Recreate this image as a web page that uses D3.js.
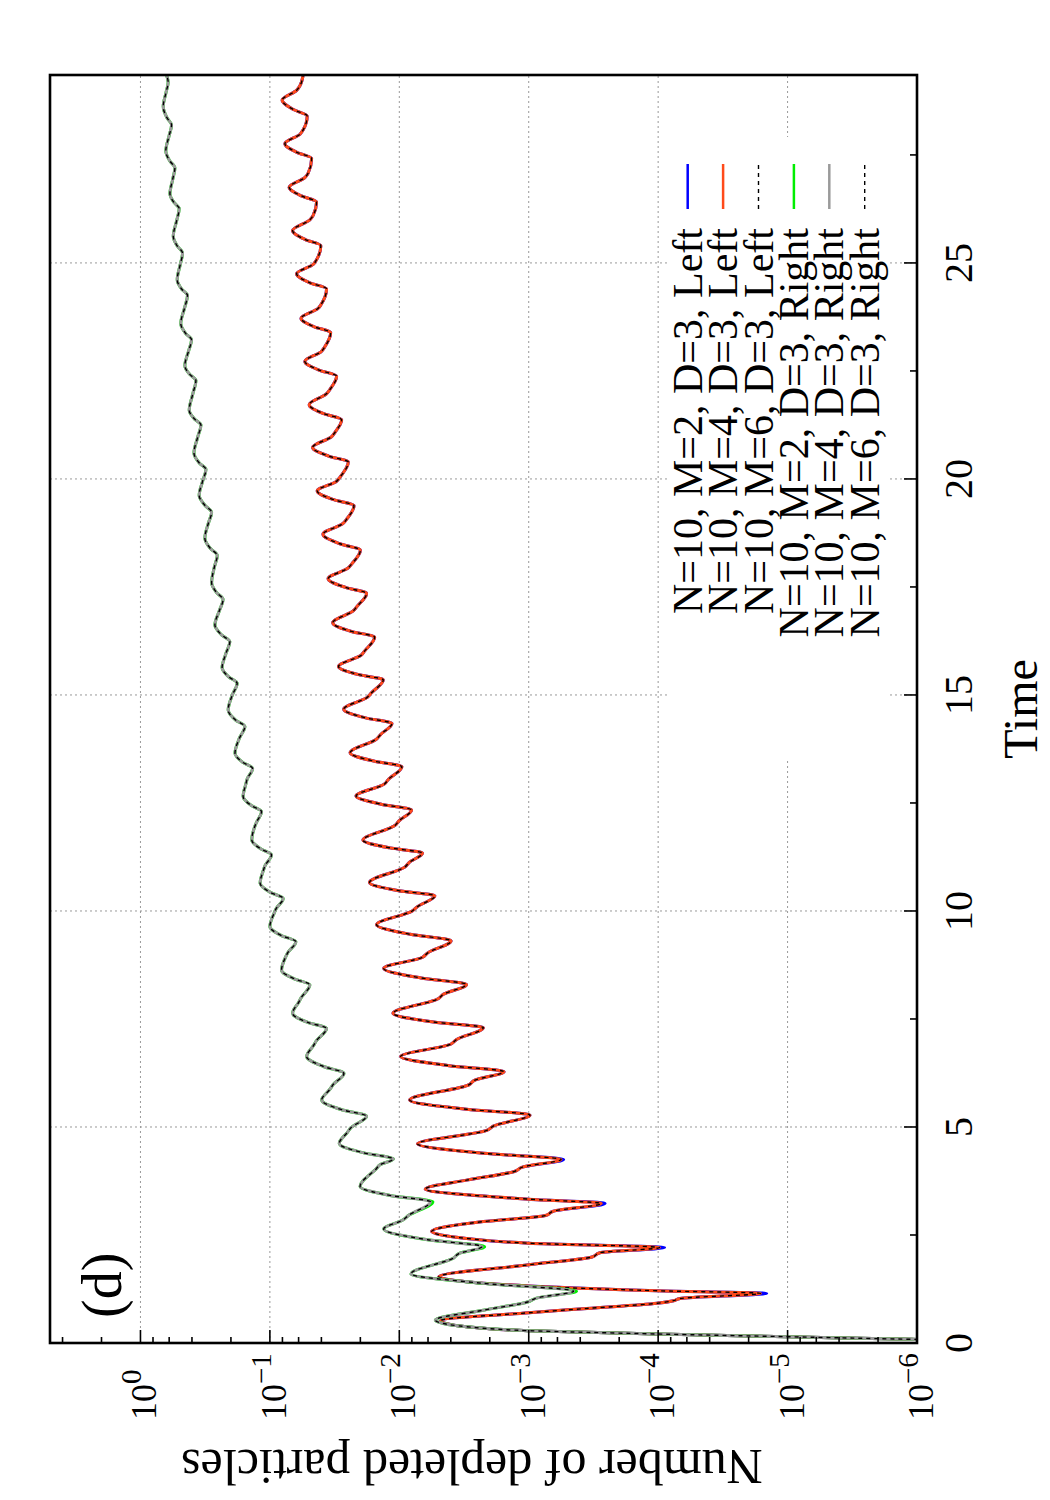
<!DOCTYPE html>
<html><head><meta charset="utf-8">
<script src="https://cdn.jsdelivr.net/npm/d3@7"></script>
<style>body{margin:0;background:#fff}</style>
</head><body>
<svg id="chart" width="1050" height="1500" xmlns="http://www.w3.org/2000/svg"></svg>
<script>
// ---------------- data ----------------
const timeTicks = [0, 5, 10, 15, 20, 25];
const timeMinorTicks = [2.5, 7.5, 12.5, 17.5, 22.5, 27.5];
const valueTicks = [1e-6, 1e-5, 1e-4, 1e-3, 1e-2, 1e-1, 1];
const valueTickExponents = ["-6", "-5", "-4", "-3", "-2", "-1", "0"];
const valueMinorTicks = [2e-6,4e-6,6e-6,8e-6, 2e-5,4e-5,6e-5,8e-5, 2e-4,4e-4,6e-4,8e-4,
  2e-3,4e-3,6e-3,8e-3, 2e-2,4e-2,6e-2,8e-2, 0.2,0.4,0.6,0.8, 2,4];
const legendLabels = ["N=10, M=2, D=3, Left", "N=10, M=4, D=3, Left", "N=10, M=6, D=3, Left",
  "N=10, M=2, D=3, Right", "N=10, M=4, D=3, Right", "N=10, M=6, D=3, Right"];

// "Left" curves
const leftTime = [
  0.03, 0.085, 0.146, 0.208, 0.285, 0.377, 0.45, 0.52,
  0.70, 0.80, 0.92, 0.98, 1.03, 1.15, 1.21, 1.32, 1.42, 1.535,
  1.81, 1.99, 2.09, 2.21, 2.31, 2.42, 2.58,
  2.81, 2.95, 3.05, 3.23, 3.33, 3.43, 3.56,
  3.77, 3.97, 4.07, 4.25, 4.39, 4.61,
  4.92, 5.02, 5.28, 5.41, 5.625,
  5.98, 6.08, 6.28, 6.42, 6.63,
  6.92, 7.02, 7.30, 7.43, 7.63,
  7.97, 8.07, 8.30, 8.45, 8.67,
  8.93, 9.03, 9.31, 9.46, 9.68,
  10.00, 10.10, 10.35, 10.47, 10.66,
  11.02, 11.12, 11.34, 11.46, 11.64,
  11.98, 12.08, 12.34, 12.47, 12.66,
  12.94, 13.04, 13.34, 13.47, 13.66,
  13.98, 14.08, 14.34, 14.47, 14.67,
  14.95, 15.05, 15.35, 15.47, 15.66,
  15.92, 16.02, 16.34, 16.47, 16.67,
  16.95, 17.05, 17.35, 17.49, 17.69,
  17.94, 18.04, 18.35, 18.50, 18.72,
  18.97, 19.07, 19.38, 19.52, 19.72,
  19.95, 20.05, 20.39, 20.53, 20.73,
  20.98, 21.08, 21.37, 21.51, 21.72,
  21.97, 22.07, 22.38, 22.52, 22.72,
  22.95, 23.05, 23.39, 23.52, 23.72,
  23.95, 24.05, 24.40, 24.54, 24.75,
  24.97, 25.07, 25.40, 25.54, 25.75,
  26.00, 26.10, 26.41, 26.55, 26.75,
  26.98, 27.08, 27.42, 27.56, 27.76,
  27.98, 28.08, 28.40, 28.55, 28.77,
  29.00, 29.10, 29.40];
const leftM2 = [
  1e-7, 1.10e-6, 1e-5, 1e-4, 1e-3, 3.02e-3, 4.37e-3, 4.79e-3,
  1.0e-3, 3.55e-4, 1.02e-4, 7.59e-5, 6.76e-5, 1.45e-5, 1.02e-4, 1.0e-3, 3.02e-3, 4.95e-3,
  1.0e-3, 3.24e-4, 2.82e-4, 8.91e-5, 1e-3, 3.02e-3, 5.62e-3,
  2.24e-3, 7.41e-4, 6.46e-4, 2.57e-4, 1e-3, 3.02e-3, 6.31e-3,
  3.02e-3, 1.29e-3, 1.12e-3, 5.37e-4, 2.24e-3, 7.24e-3,
  2.11e-3, 1.88e-3, 9.77e-4, 3.02e-3, 8.32e-3,
  2.88e-3, 2.63e-3, 1.55e-3, 4.12e-3, 9.77e-3,
  3.98e-3, 3.63e-3, 2.24e-3, 5.43e-3, 1.12e-2,
  5.01e-3, 4.57e-3, 3.02e-3, 6.79e-3, 1.32e-2,
  6.61e-3, 6.03e-3, 3.98e-3, 8.24e-3, 1.50e-2,
  7.94e-3, 7.24e-3, 5.31e-3, 1.01e-2, 1.70e-2,
  9.02e-3, 8.41e-3, 6.61e-3, 1.18e-2, 1.91e-2,
  1.08e-2, 1.01e-2, 8.04e-3, 1.38e-2, 2.16e-2,
  1.30e-2, 1.22e-2, 9.55e-3, 1.58e-2, 2.40e-2,
  1.50e-2, 1.40e-2, 1.14e-2, 1.82e-2, 2.69e-2,
  1.76e-2, 1.64e-2, 1.33e-2, 2.06e-2, 2.95e-2,
  1.97e-2, 1.85e-2, 1.55e-2, 2.34e-2, 3.27e-2,
  2.26e-2, 2.12e-2, 1.79e-2, 2.61e-2, 3.55e-2,
  2.48e-2, 2.32e-2, 2.00e-2, 2.88e-2, 3.89e-2,
  2.72e-2, 2.55e-2, 2.24e-2, 3.21e-2, 4.31e-2,
  3.04e-2, 2.86e-2, 2.48e-2, 3.52e-2, 4.68e-2,
  3.33e-2, 3.14e-2, 2.79e-2, 3.83e-2, 4.97e-2,
  3.66e-2, 3.44e-2, 3.05e-2, 4.17e-2, 5.37e-2,
  4.00e-2, 3.78e-2, 3.39e-2, 4.53e-2, 5.75e-2,
  4.23e-2, 4.00e-2, 3.65e-2, 4.90e-2, 6.22e-2,
  4.61e-2, 4.37e-2, 4.04e-2, 5.32e-2, 6.68e-2,
  4.90e-2, 4.63e-2, 4.36e-2, 5.70e-2, 7.10e-2,
  5.35e-2, 5.06e-2, 4.76e-2, 6.18e-2, 7.66e-2,
  5.85e-2, 5.53e-2, 5.15e-2, 6.58e-2, 8.04e-2,
  6.19e-2, 5.86e-2, 5.50e-2];
const leftM4 = [
  1e-7, 1.10e-6, 1e-5, 1e-4, 1e-3, 3.02e-3, 4.37e-3, 4.79e-3,
  1.0e-3, 3.55e-4, 1.02e-4, 7.59e-5, 6.76e-5, 1.62e-5, 1.02e-4, 1.0e-3, 3.02e-3, 4.95e-3,
  1.0e-3, 3.24e-4, 2.82e-4, 9.77e-5, 1e-3, 3.02e-3, 5.62e-3,
  2.24e-3, 7.41e-4, 6.46e-4, 2.75e-4, 1e-3, 3.02e-3, 6.31e-3,
  3.02e-3, 1.29e-3, 1.12e-3, 5.62e-4, 2.24e-3, 7.24e-3,
  2.11e-3, 1.88e-3, 9.77e-4, 3.02e-3, 8.32e-3,
  2.88e-3, 2.63e-3, 1.55e-3, 4.12e-3, 9.77e-3,
  3.98e-3, 3.63e-3, 2.24e-3, 5.43e-3, 1.12e-2,
  5.01e-3, 4.57e-3, 3.02e-3, 6.79e-3, 1.32e-2,
  6.61e-3, 6.03e-3, 3.98e-3, 8.24e-3, 1.50e-2,
  7.94e-3, 7.24e-3, 5.31e-3, 1.01e-2, 1.70e-2,
  9.02e-3, 8.41e-3, 6.61e-3, 1.18e-2, 1.91e-2,
  1.08e-2, 1.01e-2, 8.04e-3, 1.38e-2, 2.16e-2,
  1.30e-2, 1.22e-2, 9.55e-3, 1.58e-2, 2.40e-2,
  1.50e-2, 1.40e-2, 1.14e-2, 1.82e-2, 2.69e-2,
  1.76e-2, 1.64e-2, 1.33e-2, 2.06e-2, 2.95e-2,
  1.97e-2, 1.85e-2, 1.55e-2, 2.34e-2, 3.27e-2,
  2.26e-2, 2.12e-2, 1.79e-2, 2.61e-2, 3.55e-2,
  2.48e-2, 2.32e-2, 2.00e-2, 2.88e-2, 3.89e-2,
  2.72e-2, 2.55e-2, 2.24e-2, 3.21e-2, 4.31e-2,
  3.04e-2, 2.86e-2, 2.48e-2, 3.52e-2, 4.68e-2,
  3.33e-2, 3.14e-2, 2.79e-2, 3.83e-2, 4.97e-2,
  3.66e-2, 3.44e-2, 3.05e-2, 4.17e-2, 5.37e-2,
  4.00e-2, 3.78e-2, 3.39e-2, 4.53e-2, 5.75e-2,
  4.23e-2, 4.00e-2, 3.65e-2, 4.90e-2, 6.22e-2,
  4.61e-2, 4.37e-2, 4.04e-2, 5.32e-2, 6.68e-2,
  4.90e-2, 4.63e-2, 4.36e-2, 5.70e-2, 7.10e-2,
  5.35e-2, 5.06e-2, 4.76e-2, 6.18e-2, 7.66e-2,
  5.85e-2, 5.53e-2, 5.15e-2, 6.58e-2, 8.04e-2,
  6.19e-2, 5.86e-2, 5.50e-2];
const leftM6 = [
  1e-7, 1.10e-6, 1e-5, 1e-4, 1e-3, 3.02e-3, 4.37e-3, 4.79e-3,
  1.0e-3, 3.55e-4, 1.02e-4, 7.59e-5, 6.76e-5, 1.62e-5, 1.02e-4, 1.0e-3, 3.02e-3, 4.95e-3,
  1.0e-3, 3.24e-4, 2.82e-4, 9.77e-5, 1e-3, 3.02e-3, 5.62e-3,
  2.24e-3, 7.41e-4, 6.46e-4, 2.75e-4, 1e-3, 3.02e-3, 6.31e-3,
  3.02e-3, 1.29e-3, 1.12e-3, 5.62e-4, 2.24e-3, 7.24e-3,
  2.11e-3, 1.88e-3, 9.77e-4, 3.02e-3, 8.32e-3,
  2.88e-3, 2.63e-3, 1.55e-3, 4.12e-3, 9.77e-3,
  3.98e-3, 3.63e-3, 2.24e-3, 5.43e-3, 1.12e-2,
  5.01e-3, 4.57e-3, 3.02e-3, 6.79e-3, 1.32e-2,
  6.61e-3, 6.03e-3, 3.98e-3, 8.24e-3, 1.50e-2,
  7.94e-3, 7.24e-3, 5.31e-3, 1.01e-2, 1.70e-2,
  9.02e-3, 8.41e-3, 6.61e-3, 1.18e-2, 1.91e-2,
  1.08e-2, 1.01e-2, 8.04e-3, 1.38e-2, 2.16e-2,
  1.30e-2, 1.22e-2, 9.55e-3, 1.58e-2, 2.40e-2,
  1.50e-2, 1.40e-2, 1.14e-2, 1.82e-2, 2.69e-2,
  1.76e-2, 1.64e-2, 1.33e-2, 2.06e-2, 2.95e-2,
  1.97e-2, 1.85e-2, 1.55e-2, 2.34e-2, 3.27e-2,
  2.26e-2, 2.12e-2, 1.79e-2, 2.61e-2, 3.55e-2,
  2.48e-2, 2.32e-2, 2.00e-2, 2.88e-2, 3.89e-2,
  2.72e-2, 2.55e-2, 2.24e-2, 3.21e-2, 4.31e-2,
  3.04e-2, 2.86e-2, 2.48e-2, 3.52e-2, 4.68e-2,
  3.33e-2, 3.14e-2, 2.79e-2, 3.83e-2, 4.97e-2,
  3.66e-2, 3.44e-2, 3.05e-2, 4.17e-2, 5.37e-2,
  4.00e-2, 3.78e-2, 3.39e-2, 4.53e-2, 5.75e-2,
  4.23e-2, 4.00e-2, 3.65e-2, 4.90e-2, 6.22e-2,
  4.61e-2, 4.37e-2, 4.04e-2, 5.32e-2, 6.68e-2,
  4.90e-2, 4.63e-2, 4.36e-2, 5.70e-2, 7.10e-2,
  5.35e-2, 5.06e-2, 4.76e-2, 6.18e-2, 7.66e-2,
  5.85e-2, 5.53e-2, 5.15e-2, 6.58e-2, 8.04e-2,
  6.19e-2, 5.86e-2, 5.50e-2];

// "Right" curves
const rightTime = [
  0.03, 0.085, 0.146, 0.208, 0.285, 0.377, 0.45, 0.53,
  0.76, 0.95, 1.04, 1.20, 1.38, 1.60,
  1.97, 2.07, 2.23, 2.39, 2.64,
  2.85, 2.95, 3.27, 3.41, 3.62,
  4.03, 4.13, 4.26, 4.40, 4.62,
  4.88, 4.98, 5.25, 5.40, 5.625,
  5.88, 5.98, 6.24, 6.40, 6.63,
  6.89, 6.99, 7.28, 7.42, 7.63,
  7.89, 7.99, 8.29, 8.43, 8.63,
  8.93, 9.03, 9.29, 9.43, 9.64,
  9.95, 10.05, 10.29, 10.43, 10.64,
  10.95, 11.05, 11.30, 11.44, 11.64,
  11.95, 12.05, 12.30, 12.44, 12.65,
  12.95, 13.05, 13.30, 13.44, 13.65,
  14.00, 14.27, 14.42, 14.65,
  15.00, 15.27, 15.42, 15.63,
  15.97, 16.23, 16.39, 16.62,
  16.96, 17.21, 17.37, 17.60,
  17.97, 18.23, 18.39, 18.63,
  18.97, 19.23, 19.39, 19.62,
  19.96, 20.22, 20.37, 20.60,
  20.97, 21.25, 21.39, 21.59,
  21.97, 22.28, 22.42, 22.62,
  22.96, 23.22, 23.37, 23.60,
  23.97, 24.25, 24.39, 24.61,
  24.96, 25.23, 25.39, 25.62,
  25.98, 26.26, 26.40, 26.60,
  26.95, 27.20, 27.36, 27.59,
  27.95, 28.19, 28.36, 28.62,
  28.95, 29.18, 29.40];
const rightM2 = [
  1e-7, 1.10e-6, 1e-5, 1e-4, 1e-3, 3.02e-3, 4.57e-3, 5.27e-3,
  2.24e-3, 1.02e-3, 8.71e-4, 4.27e-4, 2.24e-3, 8.13e-3,
  3.80e-3, 3.47e-3, 2.19e-3, 6.03e-3, 1.32e-2,
  9.33e-3, 8.51e-3, 5.50e-3, 1.15e-2, 2.01e-2,
  1.51e-2, 1.40e-2, 1.11e-2, 1.88e-2, 2.91e-2,
  2.51e-2, 2.37e-2, 1.79e-2, 2.78e-2, 3.98e-2,
  3.42e-2, 3.25e-2, 2.68e-2, 3.85e-2, 5.20e-2,
  4.59e-2, 4.39e-2, 3.65e-2, 5.09e-2, 6.68e-2,
  5.98e-2, 5.74e-2, 4.91e-2, 6.47e-2, 8.13e-2,
  7.57e-2, 7.29e-2, 6.30e-2, 8.13e-2, 0.100,
  9.27e-2, 8.97e-2, 7.89e-2, 9.91e-2, 0.119,
  0.112, 0.109, 9.71e-2, 0.118, 0.138,
  0.131, 0.127, 0.116, 0.139, 0.161,
  0.153, 0.150, 0.136, 0.162, 0.186,
  0.172, 0.156, 0.184, 0.210,
  0.195, 0.179, 0.208, 0.234,
  0.218, 0.204, 0.236, 0.266,
  0.245, 0.230, 0.258, 0.282,
  0.268, 0.255, 0.288, 0.318,
  0.299, 0.282, 0.318, 0.352,
  0.330, 0.312, 0.351, 0.386,
  0.361, 0.341, 0.383, 0.420,
  0.394, 0.373, 0.416, 0.454,
  0.425, 0.403, 0.448, 0.488,
  0.455, 0.433, 0.479, 0.520,
  0.493, 0.473, 0.519, 0.558,
  0.525, 0.502, 0.551, 0.592,
  0.562, 0.542, 0.593, 0.637,
  0.600, 0.575, 0.624, 0.667,
  0.634, 0.611, 0.638];
const rightM4 = [
  1e-7, 1.10e-6, 1e-5, 1e-4, 1e-3, 3.02e-3, 4.57e-3, 5.27e-3,
  2.24e-3, 1.02e-3, 8.71e-4, 4.50e-4, 2.24e-3, 8.13e-3,
  3.80e-3, 3.47e-3, 2.29e-3, 6.03e-3, 1.32e-2,
  9.33e-3, 8.51e-3, 5.75e-3, 1.15e-2, 2.01e-2,
  1.51e-2, 1.40e-2, 1.11e-2, 1.88e-2, 2.91e-2,
  2.51e-2, 2.37e-2, 1.79e-2, 2.78e-2, 3.98e-2,
  3.42e-2, 3.25e-2, 2.68e-2, 3.85e-2, 5.20e-2,
  4.59e-2, 4.39e-2, 3.65e-2, 5.09e-2, 6.68e-2,
  5.98e-2, 5.74e-2, 4.91e-2, 6.47e-2, 8.13e-2,
  7.57e-2, 7.29e-2, 6.30e-2, 8.13e-2, 0.100,
  9.27e-2, 8.97e-2, 7.89e-2, 9.91e-2, 0.119,
  0.112, 0.109, 9.71e-2, 0.118, 0.138,
  0.131, 0.127, 0.116, 0.139, 0.161,
  0.153, 0.150, 0.136, 0.162, 0.186,
  0.172, 0.156, 0.184, 0.210,
  0.195, 0.179, 0.208, 0.234,
  0.218, 0.204, 0.236, 0.266,
  0.245, 0.230, 0.258, 0.282,
  0.268, 0.255, 0.288, 0.318,
  0.299, 0.282, 0.318, 0.352,
  0.330, 0.312, 0.351, 0.386,
  0.361, 0.341, 0.383, 0.420,
  0.394, 0.373, 0.416, 0.454,
  0.425, 0.403, 0.448, 0.488,
  0.455, 0.433, 0.479, 0.520,
  0.493, 0.473, 0.519, 0.558,
  0.525, 0.502, 0.551, 0.592,
  0.562, 0.542, 0.593, 0.637,
  0.600, 0.575, 0.624, 0.667,
  0.634, 0.611, 0.638];
const rightM6 = [
  1e-7, 1.10e-6, 1e-5, 1e-4, 1e-3, 3.02e-3, 4.57e-3, 5.27e-3,
  2.24e-3, 1.02e-3, 8.71e-4, 4.50e-4, 2.24e-3, 8.13e-3,
  3.80e-3, 3.47e-3, 2.29e-3, 6.03e-3, 1.32e-2,
  9.33e-3, 8.51e-3, 5.75e-3, 1.15e-2, 2.01e-2,
  1.51e-2, 1.40e-2, 1.11e-2, 1.88e-2, 2.91e-2,
  2.51e-2, 2.37e-2, 1.79e-2, 2.78e-2, 3.98e-2,
  3.42e-2, 3.25e-2, 2.68e-2, 3.85e-2, 5.20e-2,
  4.59e-2, 4.39e-2, 3.65e-2, 5.09e-2, 6.68e-2,
  5.98e-2, 5.74e-2, 4.91e-2, 6.47e-2, 8.13e-2,
  7.57e-2, 7.29e-2, 6.30e-2, 8.13e-2, 0.100,
  9.27e-2, 8.97e-2, 7.89e-2, 9.91e-2, 0.119,
  0.112, 0.109, 9.71e-2, 0.118, 0.138,
  0.131, 0.127, 0.116, 0.139, 0.161,
  0.153, 0.150, 0.136, 0.162, 0.186,
  0.172, 0.156, 0.184, 0.210,
  0.195, 0.179, 0.208, 0.234,
  0.218, 0.204, 0.236, 0.266,
  0.245, 0.230, 0.258, 0.282,
  0.268, 0.255, 0.288, 0.318,
  0.299, 0.282, 0.318, 0.352,
  0.330, 0.312, 0.351, 0.386,
  0.361, 0.341, 0.383, 0.420,
  0.394, 0.373, 0.416, 0.454,
  0.425, 0.403, 0.448, 0.488,
  0.455, 0.433, 0.479, 0.520,
  0.493, 0.473, 0.519, 0.558,
  0.525, 0.502, 0.551, 0.592,
  0.562, 0.542, 0.593, 0.637,
  0.600, 0.575, 0.624, 0.667,
  0.634, 0.611, 0.638];

// ---------------- drawing ----------------
const FONT = "'Liberation Serif','Times New Roman',Times,serif";
const W = 1268, H = 867;               // plot size in the (unrotated) chart frame
const svg = d3.select("#chart");
svg.append("rect").attr("width", 1050).attr("height", 1500).attr("fill", "#fff");

// whole chart is drawn in normal orientation, then rotated 90deg counter-clockwise
const g = svg.append("g").attr("transform", "translate(50,1343) rotate(-90)");

const x = d3.scaleLinear().domain([0, 29.35]).range([0, W]);
const y = d3.scaleLog().domain([1e-6, 5]).range([H, 0]);

// grid
const grid = g.append("g").attr("stroke", "#999").attr("stroke-width", 1).attr("stroke-dasharray", "2,3");
grid.selectAll("line.gx").data(timeTicks.filter(t => t > 0)).join("line")
  .attr("x1", d => x(d)).attr("x2", d => x(d)).attr("y1", 0).attr("y2", H);
grid.selectAll("line.gy").data(valueTicks.filter(v => v > 1e-6)).join("line")
  .attr("x1", 0).attr("x2", W).attr("y1", d => y(d)).attr("y2", d => y(d));

// curves
g.append("clipPath").attr("id", "plotclip").append("rect").attr("width", W).attr("height", H);
const plot = g.append("g").attr("clip-path", "url(#plotclip)");
const line = d3.line().x(d => x(d[0])).y(d => y(d[1])).curve(d3.curveMonotoneX);
const pairs = (ts, vs) => ts.map((t, i) => [t, vs[i]]);

const styles = [
  {color: "#0000ff", width: 3, dash: null},
  {color: "#ff4a1a", width: 3, dash: null},
  {color: "#000000", width: 1.4, dash: "4,4"},
  {color: "#00ee00", width: 3, dash: null},
  {color: "#9a9a9a", width: 3, dash: null},
  {color: "#000000", width: 1.4, dash: "4,4"}
];
const seriesData = [
  pairs(leftTime, leftM2), pairs(leftTime, leftM4), pairs(leftTime, leftM6),
  pairs(rightTime, rightM2), pairs(rightTime, rightM4), pairs(rightTime, rightM6)
];
seriesData.forEach((d, i) => {
  plot.append("path").attr("d", line(d)).attr("fill", "none")
    .attr("stroke", styles[i].color).attr("stroke-width", styles[i].width)
    .attr("stroke-dasharray", styles[i].dash).attr("stroke-linejoin", "round");
});

// legend (opaque white box)
const leg = g.append("g");
leg.append("rect").attr("x", 583).attr("y", 617).attr("width", 623).attr("height", 223).attr("fill", "#fff");
legendLabels.forEach((lab, i) => {
  const yy = 637.7 + 35.4 * i;
  leg.append("line").attr("x1", 1134).attr("x2", 1179).attr("y1", yy).attr("y2", yy)
    .attr("stroke", styles[i].color).attr("stroke-width", styles[i].dash ? 1.4 : 2.5)
    .attr("stroke-dasharray", styles[i].dash);
  leg.append("text").attr("x", 1115).attr("y", yy + 14).attr("text-anchor", "end")
    .attr("font-family", FONT).attr("font-size", 42).text(lab);
});

// frame
g.append("rect").attr("width", W).attr("height", H).attr("fill", "none")
  .attr("stroke", "#000").attr("stroke-width", 2.6);

// ticks
const ticks = g.append("g").attr("stroke", "#000").attr("stroke-width", 1.6);
ticks.selectAll("line.tx").data(timeTicks).join("line")
  .attr("x1", d => x(d)).attr("x2", d => x(d)).attr("y1", H).attr("y2", H - 13);
ticks.selectAll("line.txm").data(timeMinorTicks).join("line")
  .attr("x1", d => x(d)).attr("x2", d => x(d)).attr("y1", H).attr("y2", H - 7);
ticks.selectAll("line.ty").data(valueTicks).join("line")
  .attr("x1", 0).attr("x2", 13).attr("y1", d => y(d)).attr("y2", d => y(d));
ticks.selectAll("line.tym").data(valueMinorTicks).join("line")
  .attr("x1", 0).attr("x2", 6).attr("y1", d => y(d)).attr("y2", d => y(d));

// tick labels
g.selectAll("text.xl").data(timeTicks).join("text")
  .attr("x", d => x(d)).attr("y", H + 55).attr("text-anchor", "middle")
  .attr("font-family", FONT).attr("font-size", 40).text(d => d);
valueTicks.forEach((v, i) => {
  const t = g.append("text").attr("x", -77).attr("y", y(v) + 16)
    .attr("font-family", FONT).attr("font-size", 36);
  t.append("tspan").text("10");
  t.append("tspan").attr("dy", -15).attr("font-size", 29).text(valueTickExponents[i].replace("-", "\u2212"));
});

// axis titles
g.append("text").attr("x", W / 2).attr("y", H + 120).attr("text-anchor", "middle")
  .attr("font-family", FONT).attr("font-size", 48).text("Time");
g.append("text").attr("transform", `translate(-107,422) rotate(-90)`).attr("text-anchor", "middle")
  .attr("font-family", FONT).attr("font-size", 50).text("Number of depleted particles");

// panel label
g.append("text").attr("x", 25).attr("y", 71).attr("font-family", FONT).attr("font-size", 56).text("(d)");
</script>
</body></html>
